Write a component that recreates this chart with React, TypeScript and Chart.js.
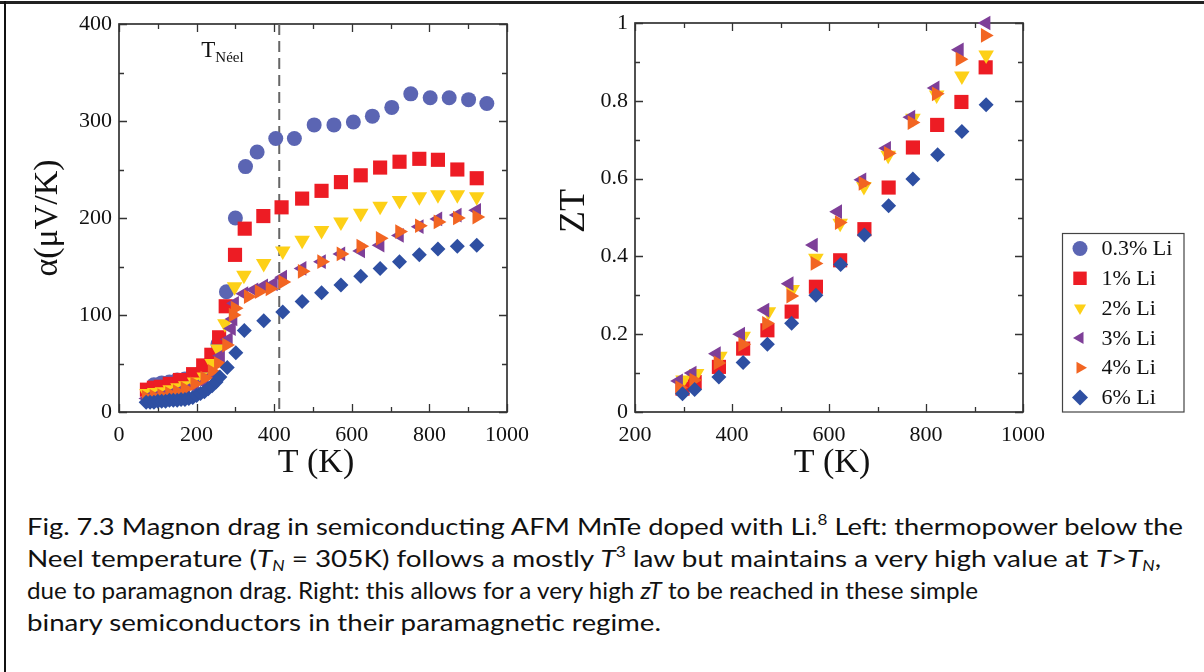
import React, { useEffect, useLayoutEffect, useRef } from 'react';
import { Chart, registerables } from 'chart.js';
import { drawPoint } from 'chart.js/helpers';

Chart.register(...registerables);

// ---------- series definitions ----------
const SERIES_LABELS = ['0.3% Li', '1% Li', '2% Li', '3% Li', '4% Li', '6% Li'];
const SERIES_COLORS = ['#5b65b3', '#ed1c24', '#fdd017', '#7e3f98', '#f26522', '#2e4fa2'];
const SERIES_POINT_STYLES = ['circle', 'rect', 'triangle', 'triangle', 'triangle', 'rectRot'];
const SERIES_ROTATIONS = [0, 0, 180, -90, 90, 0];
const SERIES_RADII = [7.5, 10, 9, 8.5, 8.5, 7.5];
const LEGEND_RADII = [7.5, 9.5, 7, 7, 7, 8];

// ---------- left panel: thermopower alpha (uV/K) vs T (K) ----------
const ALPHA_T_03 = [90, 110, 130, 150, 170, 190, 210, 230, 255, 277, 300, 326, 356, 404, 452, 503, 554, 604, 653, 703, 752, 802, 851, 901, 948];
const ALPHA_03 = [28, 30, 31, 33, 34, 36, 40, 48, 70, 124, 200, 253, 268, 282, 282, 296, 296, 299, 305, 314, 328, 324, 324, 322, 318];

const ALPHA_T_1 = [72, 90, 108, 131, 157, 191, 217, 238, 258, 275, 299, 324, 372, 419, 472, 522, 572, 623, 673, 723, 774, 822, 872, 922];
const ALPHA_1 = [23, 25, 26, 29, 33, 39, 48, 59, 77, 109, 162, 189, 202, 211, 220, 228, 237, 244, 252, 258, 261, 260, 250, 241];

const ALPHA_T_2 = [72, 92, 112, 132, 152, 172, 195, 220, 240, 255, 273, 298, 322, 373, 422, 472, 522, 572, 623, 673, 723, 774, 822, 872, 922];
const ALPHA_2 = [19, 20, 21, 23, 25, 27, 31, 36, 50, 65, 91, 129, 141, 153, 166, 177, 187, 196, 205, 212, 218, 222, 224, 224, 222];

const ALPHA_T_3 = [72, 92, 112, 132, 152, 172, 195, 220, 242, 262, 282, 290, 294, 298, 322, 348, 373, 398, 422, 472, 522, 572, 623, 673, 723, 774, 822, 872, 922];
const ALPHA_3 = [14, 15, 16, 18, 20, 22, 26, 30, 38, 58, 75, 86, 96, 112, 122, 126, 130, 132, 139, 148, 155, 163, 166, 172, 182, 191, 199, 203, 208];

const ALPHA_T_4 = [70, 90, 110, 130, 150, 170, 195, 221, 240, 256, 277, 294, 299, 333, 361, 389, 422, 472, 522, 572, 623, 673, 723, 774, 822, 872, 922];
const ALPHA_4 = [15, 16, 17, 19, 21, 24, 29, 35, 42, 50, 69, 100, 107, 119, 124, 127, 134, 145, 155, 163, 171, 179, 186, 192, 196, 200, 201];

const ALPHA_T_6 = [70, 80, 90, 100, 110, 120, 130, 140, 150, 160, 170, 180, 190, 200, 210, 220, 230, 240, 250, 260, 279, 301, 323, 373, 422, 472, 522, 572, 623, 673, 723, 774, 822, 872, 922];
const ALPHA_6 = [10, 10, 10, 11, 11, 11, 12, 12, 12, 13, 13, 14, 15, 17, 19, 21, 24, 27, 31, 36, 46, 61, 84, 94, 103, 114, 123, 131, 140, 148, 155, 162, 168, 171, 172];

const NEEL_T = 413;

const LEFT_X_TICKS = [0, 200, 400, 600, 800, 1000];
const LEFT_X_TICK_LABELS = ['0', '200', '400', '600', '800', '1000'];
const LEFT_Y_TICKS = [0, 100, 200, 300, 400];
const LEFT_Y_TICK_LABELS = ['0', '100', '200', '300', '400'];

// ---------- right panel: ZT vs T (K) ----------
const ZT_T_1 = [298, 323, 373, 423, 473, 523, 573, 623, 673, 723, 773, 823, 873, 923];
const ZT_1 = [0.06, 0.077, 0.116, 0.163, 0.21, 0.258, 0.322, 0.39, 0.47, 0.577, 0.68, 0.738, 0.797, 0.886];

const ZT_T_2 = [299, 327, 375, 423, 475, 524, 573, 623, 672, 722, 773, 822, 874, 924];
const ZT_2 = [0.082, 0.099, 0.143, 0.195, 0.258, 0.315, 0.395, 0.485, 0.58, 0.66, 0.755, 0.815, 0.864, 0.918];

const ZT_T_3 = [290, 318, 368, 418, 468, 518, 568, 618, 668, 719, 769, 819, 869, 924];
const ZT_3 = [0.08, 0.1, 0.15, 0.2, 0.262, 0.33, 0.429, 0.515, 0.597, 0.678, 0.758, 0.833, 0.931, 1.0];

const ZT_T_4 = [292, 321, 371, 422, 471, 521, 571, 621, 670, 722, 771, 821, 870, 922];
const ZT_4 = [0.063, 0.082, 0.126, 0.174, 0.228, 0.298, 0.382, 0.487, 0.588, 0.665, 0.744, 0.818, 0.907, 0.968];

const ZT_T_6 = [298, 323, 373, 423, 473, 523, 573, 624, 673, 723, 773, 824, 874, 924];
const ZT_6 = [0.047, 0.058, 0.09, 0.127, 0.174, 0.228, 0.3, 0.379, 0.455, 0.53, 0.599, 0.661, 0.721, 0.79];

const RIGHT_X_TICKS = [200, 400, 600, 800, 1000];
const RIGHT_X_TICK_LABELS = ['200', '400', '600', '800', '1000'];
const RIGHT_Y_TICKS = [0, 0.2, 0.4, 0.6, 0.8, 1];
const RIGHT_Y_TICK_LABELS = ['0', '0.2', '0.4', '0.6', '0.8', '1'];

// target rendered widths of the four caption lines (px)
const CAPTION_LINE_WIDTHS = [1156, 1134, 951, 634];

// ---------- helpers ----------
const SERIF = "'Liberation Serif', 'Times New Roman', serif";
const AXIS_COLOR = '#333';

const zip = (xs: number[], ys: number[]) => xs.map((x, i) => ({ x, y: ys[i] }));

function makeDataset(idx: number, xs: number[], ys: number[]) {
  return {
    label: SERIES_LABELS[idx],
    data: zip(xs, ys),
    backgroundColor: SERIES_COLORS[idx],
    borderColor: SERIES_COLORS[idx],
    pointStyle: SERIES_POINT_STYLES[idx],
    pointRotation: SERIES_ROTATIONS[idx],
    pointRadius: SERIES_RADII[idx],
    pointBorderWidth: 0,
    pointHoverRadius: SERIES_RADII[idx],
    showLine: false,
    clip: false,
    order: 10 - idx,
  };
}

function fixedTicks(values: number[], labels: string[]) {
  return {
    afterBuildTicks: (s: any) => {
      s.ticks = values.map((v) => ({ value: v }));
    },
    callback: (v: any) => {
      const i = values.findIndex((t) => Math.abs(t - Number(v)) < 1e-9);
      return i >= 0 ? labels[i] : '';
    },
  };
}

interface DecorOpts {
  xMin: number; xMax: number; xMinor: number; xMajor: number;
  yMin: number; yMax: number; yMinor: number; yMajor: number;
  xTitle: string; yTitle: string; yTitleX: number; yTitleY?: number; yTitleSize: number;
  neel?: number;
  legend?: { left: number; top: number; width: number; height: number; markerX: number; textX: number; firstY: number; step: number };
}

function makeDecor(o: DecorOpts) {
  const isMult = (v: number, m: number) => Math.abs(v / m - Math.round(v / m)) < 1e-6;
  return {
    id: 'decor',
    beforeDatasetsDraw(chart: any) {
      const { ctx, chartArea: a, scales } = chart;
      const x = scales.x, y = scales.y;
      ctx.save();
      ctx.strokeStyle = AXIS_COLOR;
      ctx.lineWidth = 1.3;
      ctx.beginPath();
      for (let v = o.xMin; v <= o.xMax + 1e-9; v += o.xMinor) {
        const px = Math.round(x.getPixelForValue(v)) + 0.5;
        const len = isMult(v - o.xMin, o.xMajor) ? 8 : 5;
        ctx.moveTo(px, a.bottom); ctx.lineTo(px, a.bottom - len);
        ctx.moveTo(px, a.top); ctx.lineTo(px, a.top + len);
      }
      for (let v = o.yMin; v <= o.yMax + 1e-9; v += o.yMinor) {
        const py = Math.round(y.getPixelForValue(v)) + 0.5;
        const len = isMult(v - o.yMin, o.yMajor) ? 8 : 5;
        ctx.moveTo(a.left, py); ctx.lineTo(a.left + len, py);
        ctx.moveTo(a.right, py); ctx.lineTo(a.right - len, py);
      }
      ctx.stroke();
      ctx.lineWidth = 1.7;
      ctx.strokeRect(a.left, a.top, a.right - a.left, a.bottom - a.top);
      if (o.neel !== undefined) {
        const px = x.getPixelForValue(o.neel);
        ctx.strokeStyle = '#666';
        ctx.lineWidth = 2;
        ctx.setLineDash([11, 6]);
        ctx.beginPath();
        ctx.moveTo(px, a.top);
        ctx.lineTo(px, a.bottom);
        ctx.stroke();
        ctx.setLineDash([]);
      }
      ctx.restore();
    },
    afterDraw(chart: any) {
      const { ctx, chartArea: a, scales } = chart;
      const x = scales.x, y = scales.y;
      ctx.save();
      ctx.fillStyle = '#111';
      // x title
      ctx.font = `34px ${SERIF}`;
      ctx.textAlign = 'center';
      ctx.textBaseline = 'middle';
      ctx.fillText(o.xTitle, (a.left + a.right) / 2 + 3, 463);
      // y title
      ctx.save();
      ctx.translate(o.yTitleX, o.yTitleY ?? (a.top + a.bottom) / 2);
      ctx.rotate(-Math.PI / 2);
      ctx.font = `${o.yTitleSize}px ${SERIF}`;
      ctx.fillText(o.yTitle, 0, 0);
      ctx.restore();
      // Neel annotation
      if (o.neel !== undefined) {
        ctx.textAlign = 'left';
        ctx.textBaseline = 'alphabetic';
        const tx = x.getPixelForValue(212);
        const ty = y.getPixelForValue(366);
        ctx.font = `23px ${SERIF}`;
        ctx.fillText('T', tx, ty);
        const tw = ctx.measureText('T').width;
        ctx.font = `15px ${SERIF}`;
        ctx.fillText('Néel', tx + tw, ty + 5);
      }
      // legend
      if (o.legend) {
        const L = o.legend;
        ctx.strokeStyle = '#444';
        ctx.lineWidth = 1.2;
        ctx.strokeRect(L.left, L.top, L.width, L.height);
        ctx.font = `22px ${SERIF}`;
        ctx.textAlign = 'left';
        ctx.textBaseline = 'middle';
        SERIES_LABELS.forEach((lab, i) => {
          const cy = L.firstY + i * L.step;
          ctx.fillStyle = SERIES_COLORS[i];
          drawPoint(ctx, {
            pointStyle: SERIES_POINT_STYLES[i] as any,
            rotation: SERIES_ROTATIONS[i],
            radius: LEGEND_RADII[i],
            borderWidth: 0,
          } as any, L.markerX, cy);
          ctx.fillStyle = '#111';
          ctx.fillText(lab, L.textX, cy + 1);
        });
      }
      ctx.restore();
    },
  };
}

function axisCommon(values: number[], labels: string[], padding: number) {
  return {
    type: 'linear' as const,
    grid: { display: false, drawTicks: false },
    border: { display: false },
    ticks: {
      ...fixedTicks(values, labels),
      font: { family: SERIF, size: 22 },
      color: '#111',
      padding,
      maxRotation: 0,
      autoSkip: false,
    },
  };
}

function LeftChart() {
  const ref = useRef<HTMLCanvasElement>(null);
  useEffect(() => {
    if (!ref.current) return;
    const xAxis: any = axisCommon(LEFT_X_TICKS, LEFT_X_TICK_LABELS, 10);
    const yAxis: any = axisCommon(LEFT_Y_TICKS, LEFT_Y_TICK_LABELS, 7);
    const xTicks = xAxis.ticks; const yTicks = yAxis.ticks;
    const chart = new Chart(ref.current, {
      type: 'scatter',
      data: {
        datasets: [
          makeDataset(0, ALPHA_T_03, ALPHA_03),
          makeDataset(1, ALPHA_T_1, ALPHA_1),
          makeDataset(2, ALPHA_T_2, ALPHA_2),
          makeDataset(3, ALPHA_T_3, ALPHA_3),
          makeDataset(4, ALPHA_T_4, ALPHA_4),
          makeDataset(5, ALPHA_T_6, ALPHA_6),
        ] as any,
      },
      options: {
        animation: false,
        responsive: false,
        maintainAspectRatio: false,
        events: [],
        layout: { padding: { left: 0, right: 53, top: 24, bottom: 0 } },
        plugins: { legend: { display: false }, tooltip: { enabled: false } },
        scales: {
          x: {
            ...xAxis, min: 0, max: 1000,
            afterBuildTicks: xTicks.afterBuildTicks,
            ticks: { ...xTicks, afterBuildTicks: undefined },
            afterFit: (s: any) => { s.height = 88; },
          },
          y: {
            ...yAxis, min: 0, max: 400,
            afterBuildTicks: yTicks.afterBuildTicks,
            ticks: { ...yTicks, afterBuildTicks: undefined },
            afterFit: (s: any) => { s.width = 119; },
          },
        },
      } as any,
      plugins: [makeDecor({
        xMin: 0, xMax: 1000, xMinor: 100, xMajor: 200,
        yMin: 0, yMax: 400, yMinor: 50, yMajor: 100,
        xTitle: 'T (K)', yTitle: 'α(μV/K)', yTitleX: 48, yTitleY: 218, yTitleSize: 34,
        neel: NEEL_T,
      })],
    });
    return () => chart.destroy();
  }, []);
  return <canvas ref={ref} width={560} height={500} style={{ position: 'absolute', left: 0, top: 0 }} />;
}

function RightChart() {
  const ref = useRef<HTMLCanvasElement>(null);
  useEffect(() => {
    if (!ref.current) return;
    const xAxis: any = axisCommon(RIGHT_X_TICKS, RIGHT_X_TICK_LABELS, 10);
    const yAxis: any = axisCommon(RIGHT_Y_TICKS, RIGHT_Y_TICK_LABELS, 7);
    const xTicks = xAxis.ticks; const yTicks = yAxis.ticks;
    const chart = new Chart(ref.current, {
      type: 'scatter',
      data: {
        datasets: [
          makeDataset(1, ZT_T_1, ZT_1),
          makeDataset(2, ZT_T_2, ZT_2),
          makeDataset(3, ZT_T_3, ZT_3),
          makeDataset(4, ZT_T_4, ZT_4),
          makeDataset(5, ZT_T_6, ZT_6),
        ] as any,
      },
      options: {
        animation: false,
        responsive: false,
        maintainAspectRatio: false,
        events: [],
        layout: { padding: { left: 0, right: 181, top: 23, bottom: 0 } },
        plugins: { legend: { display: false }, tooltip: { enabled: false } },
        scales: {
          x: {
            ...xAxis, min: 200, max: 1000,
            afterBuildTicks: xTicks.afterBuildTicks,
            ticks: { ...xTicks, afterBuildTicks: undefined },
            afterFit: (s: any) => { s.height = 88; },
          },
          y: {
            ...yAxis, min: 0, max: 1,
            afterBuildTicks: yTicks.afterBuildTicks,
            ticks: { ...yTicks, afterBuildTicks: undefined },
            afterFit: (s: any) => { s.width = 75; },
          },
        },
      } as any,
      plugins: [makeDecor({
        xMin: 200, xMax: 1000, xMinor: 100, xMajor: 200,
        yMin: 0, yMax: 1, yMinor: 0.1, yMajor: 0.2,
        xTitle: 'T (K)', yTitle: 'ZT', yTitleX: 15, yTitleY: 211, yTitleSize: 36,
        legend: { left: 502.5, top: 233.5, width: 121.5, height: 178.5, markerX: 520, textX: 541.5, firstY: 248.5, step: 29.8 },
      })],
    });
    return () => chart.destroy();
  }, []);
  return <canvas ref={ref} width={644} height={500} style={{ position: 'absolute', left: 560, top: 0 }} />;
}

const LINE_H = 32;
const capLine: React.CSSProperties = {
  position: 'absolute', left: 0, whiteSpace: 'nowrap', lineHeight: `${LINE_H}px`, height: `${LINE_H}px`,
  transformOrigin: '0 0',
};
const supStyle: React.CSSProperties = { fontSize: '15px', verticalAlign: '10px', lineHeight: 0 };
const subStyle: React.CSSProperties = { fontSize: '15px', verticalAlign: '-4px', lineHeight: 0 };

function Caption() {
  const lineRefs = [
    useRef<HTMLDivElement>(null), useRef<HTMLDivElement>(null),
    useRef<HTMLDivElement>(null), useRef<HTMLDivElement>(null),
  ];
  useLayoutEffect(() => {
    const fit = () => {
      lineRefs.forEach((r, i) => {
        const el = r.current;
        if (!el) return;
        el.style.transform = 'none';
        const w = el.getBoundingClientRect().width;
        if (w > 0) el.style.transform = `scaleX(${CAPTION_LINE_WIDTHS[i] / w})`;
      });
    };
    fit();
    (document as any).fonts?.ready?.then(fit);
  }, []);
  const lineStyle = (i: number): React.CSSProperties => ({ ...capLine, top: i * LINE_H, display: 'inline-block' });
  return (
    <div style={{
      position: 'absolute', left: 27, top: 510,
      fontFamily: "Lato, 'Open Sans', sans-serif", fontSize: '24px', color: '#111',
    }}>
      <div ref={lineRefs[0]} style={lineStyle(0)}>
        Fig. 7.3 Magnon drag in semiconducting AFM MnTe doped with Li.<span style={supStyle}>8</span> Left: thermopower below the
      </div>
      <div ref={lineRefs[1]} style={lineStyle(1)}>
        Neel temperature (<i>T</i><span style={subStyle}><i>N</i></span> = 305K) follows a mostly <i>T</i><span style={supStyle}>3</span> law but maintains a very high value at <i>T</i>&gt;<i>T</i><span style={subStyle}><i>N</i></span>,
      </div>
      <div ref={lineRefs[2]} style={lineStyle(2)}>
        due to paramagnon drag. Right: this allows for a very high <i>zT</i> to be reached in these simple
      </div>
      <div ref={lineRefs[3]} style={lineStyle(3)}>
        binary semiconductors in their paramagnetic regime.
      </div>
    </div>
  );
}

export default function App() {
  return (
    <div style={{ position: 'absolute', left: 0, top: 0, width: 1204, height: 672, background: '#fff', overflow: 'hidden' }}>
      <div style={{ position: 'absolute', left: 0, top: 1, width: 1204, height: 3, background: '#222' }} />
      <div style={{ position: 'absolute', left: 4, top: 1, width: 2, height: 671, background: '#111' }} />
      <LeftChart />
      <RightChart />
      <Caption />
    </div>
  );
}
